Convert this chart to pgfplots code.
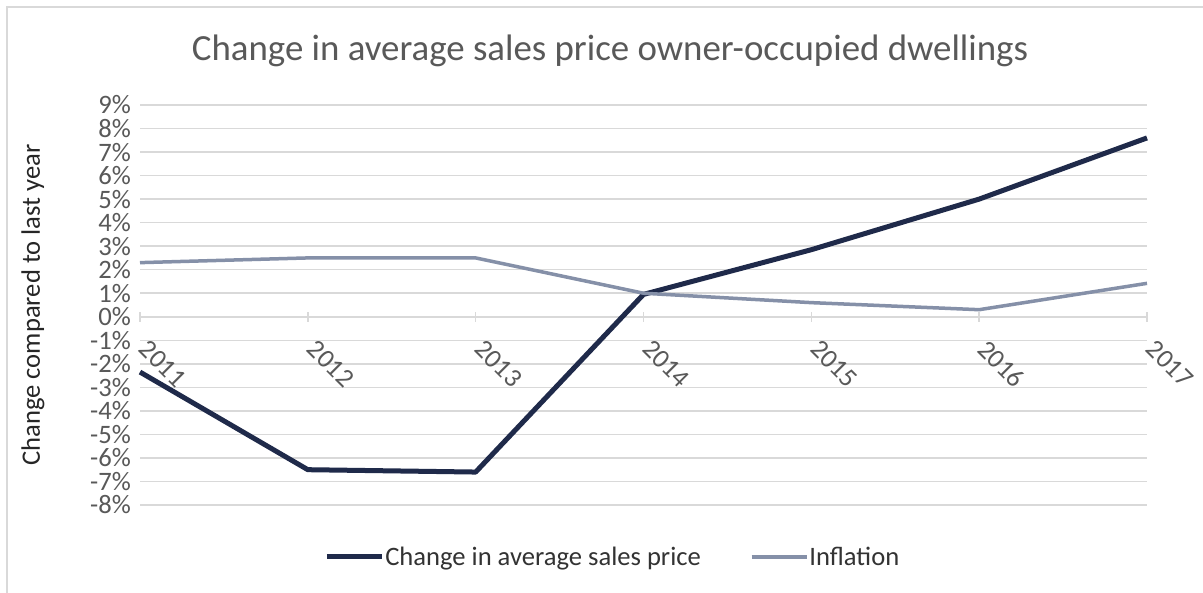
\documentclass[border=0pt]{standalone}
\usepackage{pgfplots}
\pgfplotsset{compat=1.18}
\usepackage{fontspec}
\setmainfont{Carlito}
\definecolor{dark}{HTML}{1F2A4A}
\definecolor{infl}{HTML}{8590A8}
\definecolor{gridc}{HTML}{D9D9D9}
\definecolor{txt}{HTML}{595959}
\begin{document}
\begin{tikzpicture}[x=1bp,y=1bp]
\path[use as bounding box, fill=white] (0,0) rectangle (1203,593);
\draw[gridc, line width=2bp] (7,0) -- (7,586) -- (1203,586);
\node[text=txt, font=\fontsize{37}{44}\selectfont] at (610,542) {Change in average sales price owner-occupied dwellings};
\node[rotate=90, text=black!85, font=\fontsize{26.7}{32}\selectfont] at (33,288) {Change compared to last year};
\begin{axis}[
  at={(140bp,88bp)}, anchor=south west,
  scale only axis, width=1007bp, height=400bp,
  xmin=2011, xmax=2017, ymin=-8, ymax=9,
  axis x line*=middle, axis y line*=left,
  hide obscured x ticks=false,
  x axis line style={gridc, line width=1.5bp},
  y axis line style={draw=none},
  xtick={2011,...,2017},
  ytick={-8,...,9},
  xticklabels={2011,2012,2013,2014,2015,2016,2017},
  yticklabel={\pgfmathprintnumber{\tick}\%},
  /pgf/number format/assume math mode=true,
  ymajorgrids, grid style={gridc, line width=1.5bp},
  ytick style={draw=none},
  xtick style={gridc, line width=1.5bp},
  tick align=center, major tick length=10bp,
  ticklabel style={text=txt, font=\fontsize{26.7}{32}\selectfont},
  xticklabel style={xshift=10bp, yshift=-15bp, rotate=-45, anchor=north west, inner sep=1bp},
  yticklabel style={anchor=east, inner sep=2bp, xshift=-2bp},
  legend columns=2,
  legend style={at={(0.469,-0.13)}, anchor=center, draw=none, fill=none,
    font=\fontsize{26.7}{32}\selectfont, text=black!80,
    /tikz/every even column/.append style={column sep=48bp},
    nodes={inner xsep=1bp}},
  legend image code/.code={\draw[#1] (0bp,0bp) -- (55bp,0bp);},
  clip=false,
]
\addplot[dark, line width=5bp, line join=round] coordinates {
(2011,-2.35) (2012,-6.5) (2013,-6.6) (2014,0.95) (2015,2.85) (2016,5.0) (2017,7.6)};
\addlegendentry{Change in average sales price}
\addplot[infl, line width=3.5bp, line join=round] coordinates {
(2011,2.3) (2012,2.5) (2013,2.5) (2014,1.0) (2015,0.6) (2016,0.3) (2017,1.42)};
\addlegendentry{Inflation}
\end{axis}
\end{tikzpicture}
\end{document}
